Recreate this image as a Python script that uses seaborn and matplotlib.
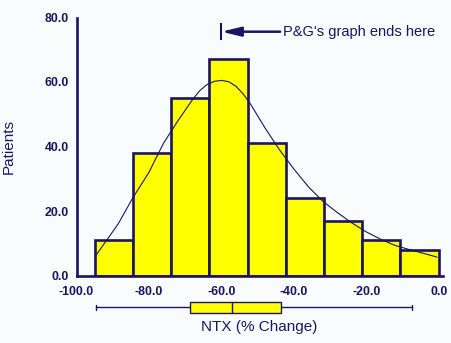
import numpy as np
import matplotlib
matplotlib.use("Agg")
import matplotlib.pyplot as plt
from matplotlib.ticker import MultipleLocator, FormatStrFormatter
import seaborn as sns

# ---- data ----
bin_edges = [-95.0, -84.4, -73.9, -63.3, -52.8, -42.2, -31.7, -21.1, -10.6, 0.0]
patients = [11, 38, 55, 67, 41, 24, 17, 11, 8]

curve_x = [-94.8, -91, -88.5, -84.5, -80, -76, -72, -68, -66, -64, -62, -60,
           -58, -56, -54, -52, -50, -48, -44, -40, -36, -32, -28, -24, -20,
           -16, -12, -8, -4, -0.5]
curve_y = [6.0, 12, 16, 24, 32, 41, 48, 54.5, 57.3, 59.2, 60.2, 60.5, 60.1,
           58.7, 56.3, 53.2, 49.5, 45.8, 39, 33, 27.5, 23, 19.5, 16.3, 13.5,
           11.2, 9.3, 8.0, 6.8, 5.7]

box_stats = dict(whislo=-94.7, q1=-68.6, med=-57.1, q3=-43.6, whishi=-7.3)

x_ticks = [-100, -80, -60, -40, -20, 0]
y_ticks = [0, 20, 40, 60, 80]

marker_x = -60.0
annot_text = "P&G's graph ends here"
x_label = "NTX (% Change)"
y_label = "Patients"

# ---- style ----
sns.set_style("white")
plt.rcParams["font.family"] = ["Liberation Sans", "DejaVu Sans"]
plt.rcParams["axes.unicode_minus"] = False

navy = "#1b1464"
yellow = "#ffff00"
bg = "#f9fcfc"

W, H = 452, 343
fig = plt.figure(figsize=(W / 100, H / 100), dpi=100, facecolor=bg)
ax = fig.add_axes([76.5 / W, (H - 275.5) / H, 366 / W, 258 / H])
ax.set_facecolor(bg)

centers = [(a + b) / 2 for a, b in zip(bin_edges[:-1], bin_edges[1:])]
sns.histplot(x=centers, weights=patients, bins=bin_edges, stat="count",
             color=yellow, edgecolor=navy, linewidth=1.9, alpha=1, ax=ax,
             zorder=2)
sns.lineplot(x=curve_x, y=curve_y, color=navy, linewidth=0.8, ax=ax,
             sort=False, zorder=3)

for s in ["top", "right"]:
    ax.spines[s].set_visible(False)
for s in ["left", "bottom"]:
    ax.spines[s].set_color(navy)
    ax.spines[s].set_linewidth(1.9)

ax.set_xticks(x_ticks)
ax.set_yticks(y_ticks)
ax.xaxis.set_minor_locator(MultipleLocator(4))
ax.yaxis.set_minor_locator(MultipleLocator(4))
ax.xaxis.set_major_formatter(FormatStrFormatter("%.1f"))
ax.yaxis.set_major_formatter(FormatStrFormatter("%.1f"))
ax.set_xlim(-100, 1)
ax.set_ylim(0, 80)
ax.tick_params(axis="both", which="both", direction="out", color=navy,
               width=1.0, labelcolor=navy)
ax.tick_params(axis="x", which="both", length=4.5, pad=3)
ax.tick_params(axis="y", which="both", length=5, pad=0.5)
for lab in ax.get_xticklabels() + ax.get_yticklabels():
    lab.set_fontweight("bold")
    lab.set_fontsize(8.9)

ax.set_xlabel(x_label, fontsize=11, color=navy)
ax.set_ylabel(y_label, fontsize=11, color=navy)
ax.xaxis.set_label_coords(0.5, -0.172)
ax.yaxis.set_label_coords(-0.165, 0.5)

# annotation
ay = 75.6
ax.annotate("", xy=(marker_x, ay), xytext=(-43.8, ay),
            arrowprops=dict(arrowstyle="-|>,head_length=1.15,head_width=0.28",
                            color=navy, lw=1.8, mutation_scale=10,
                            shrinkA=0, shrinkB=0))
ax.vlines(marker_x, 73.0, 78.2, color=navy, lw=1.5)
ax.text(-43.0, ay, annot_text, ha="left", va="center", fontsize=10.5,
        color=navy)

# box plot below the axis
bax = fig.add_axes([76.5 / W, (H - 317) / H, 366 / W, 20 / H])
bax.set_xlim(-100, 1)
bax.set_ylim(0, 1)
bax.axis("off")
st = dict(box_stats, fliers=[])
kw = dict(positions=[0.5], widths=0.55, capwidths=0.25, patch_artist=True,
          showfliers=False,
          boxprops=dict(facecolor=yellow, edgecolor=navy, linewidth=1.0),
          medianprops=dict(color=navy, linewidth=1.0),
          whiskerprops=dict(color=navy, linewidth=1.0),
          capprops=dict(color=navy, linewidth=1.0))
try:
    bax.bxp([st], orientation="horizontal", **kw)
except TypeError:
    bax.bxp([st], vert=False, **kw)

fig.savefig("out.png", dpi=100, facecolor=bg)
